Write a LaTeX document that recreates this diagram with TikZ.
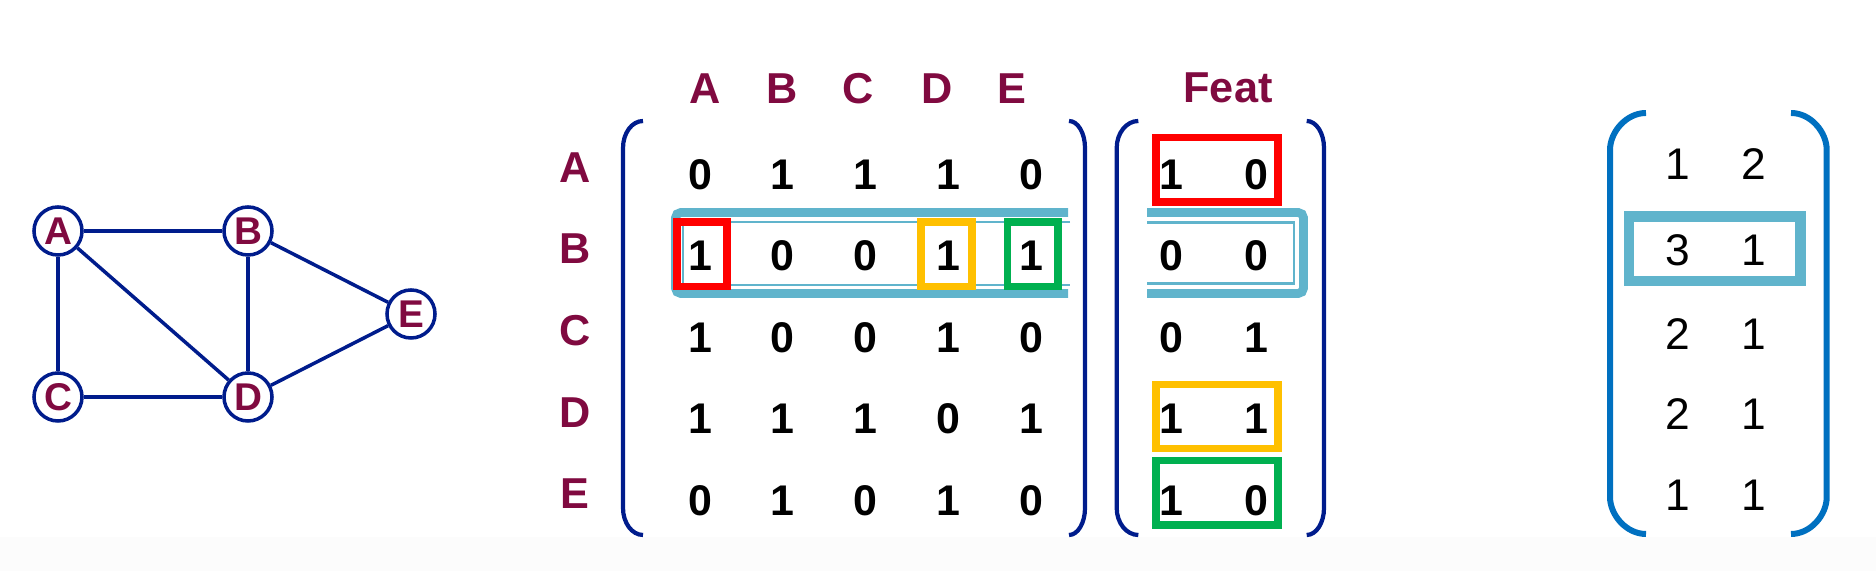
\documentclass[tikz,border=0pt]{standalone}
\usepackage{fontspec}
\setmainfont{Liberation Sans}
\usepackage{xcolor}
\usepackage{tikz}

\definecolor{maroon}{RGB}{128,10,64}
\definecolor{navy}{RGB}{0,28,140}
\definecolor{tealbox}{RGB}{96,180,204}
\definecolor{hlred}{RGB}{255,0,0}
\definecolor{hlorange}{RGB}{255,192,0}
\definecolor{hlgreen}{RGB}{0,176,80}
\definecolor{brkblue}{RGB}{0,112,192}

\begin{document}
\begin{tikzpicture}[
  x=0.01cm, y=-0.01cm,
  vertex/.style={circle,draw=navy,line width=1pt,fill=white,minimum size=0.48cm,inner sep=0pt,text=maroon,font=\bfseries\fontsize{11}{13}\selectfont},
  link/.style={draw=navy,line width=1pt},
  lbl/.style={text=maroon,inner sep=0pt,font=\bfseries\fontsize{12.3}{14}\selectfont},
  num/.style={inner sep=0pt,font=\bfseries\fontsize{12.2}{14}\selectfont},
  plainnum/.style={inner sep=0pt,font=\fontsize{12.6}{15}\selectfont},
  brk/.style={draw=navy,line width=1.2pt},
  hl/.style={draw=#1,line width=2.1pt,inner sep=0pt},
  rowband/.style={draw=tealbox,line width=2.5pt,rounded corners=1.5pt},
  rowline/.style={draw=tealbox,line width=0.6pt}
  ]

\useasboundingbox (0,0) rectangle (1876,571);
\fill[black!1] (0,537) rectangle (1876,571);

% Graph
\node[vertex] (vA) at (58,231) {A};
\node[vertex] (vB) at (248,231) {B};
\node[vertex] (vC) at (58,397) {C};
\node[vertex] (vD) at (248,397) {D};
\node[vertex] (vE) at (411,314) {E};
\foreach \u/\v in {vA/vB, vA/vC, vA/vD, vB/vD, vB/vE, vC/vD, vD/vE}
  \draw[link] (\u) -- (\v);

% Row B highlight
\draw[rowband] (1068,212.5) -- (675.5,212.5) -- (675.5,293.5) -- (1068,293.5);
\draw[rowline] (1070,222) -- (683,222) -- (683,285) -- (1070,285);
\draw[rowband] (1147,212.5) -- (1303.5,212.5) -- (1303.5,293.5) -- (1147,293.5);
\draw[rowline] (1147,222.5) -- (1294,222.5) -- (1294,283.5) -- (1147,283.5);

% Neighbour boxes
\node[hl=hlred, minimum width=0.5cm, minimum height=0.643cm] (selA) at (702,254.2) {};
\node[hl=hlorange, minimum width=0.51cm, minimum height=0.643cm] (selD) at (946.5,254.2) {};
\node[hl=hlgreen, minimum width=0.503cm, minimum height=0.643cm] (selE) at (1032.9,254.2) {};
\node[hl=hlred, minimum width=1.22cm, minimum height=0.643cm] (featA) at (1217,169.9) {};
\node[hl=hlorange, minimum width=1.22cm, minimum height=0.643cm] (featD) at (1217,416.4) {};
\node[hl=hlgreen, minimum width=1.22cm, minimum height=0.643cm] (featE) at (1217,492.9) {};

% Adjacency matrix
\foreach \c/\x in {A/705, B/781.7, C/858.3, D/937.3, E/1012}
  \node[lbl] (col\c) at (\x,88.3) {\c};
\foreach \c [count=\i] in {A,B,C,D,E}
  \node[lbl] (row\c) at (575,{167.5+81.6*(\i-1)}) {\c};
\foreach \vals [count=\i] in {{0,1,1,1,0},{1,0,0,1,1},{1,0,0,1,0},{1,1,1,0,1},{0,1,0,1,0}}
  \foreach \v [count=\j] in \vals
    \node[num] (adj-\i-\j) at ({700+82.8*(\j-1)},{174.7+81.4*(\i-1)}) {\v};

% Features
\node[lbl] (feat) at (1228,88.3) {Feat};
\foreach \a/\b [count=\i] in {1/0,0/0,0/1,1/1,1/0} {
  \node[num] (f-\i-1) at (1171.7,{174.7+81.4*(\i-1)}) {\a};
  \node[num] (f-\i-2) at (1256.5,{174.7+81.4*(\i-1)}) {\b};
}

% Brackets
\foreach \xv/\xe in {623/643, 1085/1069, 1116.7/1138.3, 1324/1306.7}
  \draw[brk] (\xe,121) .. controls ({\xe+0.55*(\xv-\xe)},121) and (\xv,133) .. (\xv,148)
    -- (\xv,508) .. controls (\xv,523) and ({\xe+0.55*(\xv-\xe)},535) .. (\xe,535);
\foreach \xv/\xe in {1610/1646, 1826.7/1791}
  \draw[brk, draw=brkblue, line width=1.7pt] (\xe,113) .. controls ({\xe+0.55*(\xv-\xe)},113) and (\xv,132) .. (\xv,150)
    -- (\xv,497) .. controls (\xv,515) and ({\xe+0.55*(\xv-\xe)},534) .. (\xe,534);

% Aggregated result
\node[draw=tealbox, line width=3.1pt, minimum width=1.71cm, minimum height=0.645cm] (hrow) at (1714.5,248.7) {};
\foreach \a/\b/\y [count=\i] in {1/2/164,3/1/250,2/1/334,2/1/414,1/1/495} {
  \node[plainnum] (h-\i-1) at (1677.7,\y) {\a};
  \node[plainnum] (h-\i-2) at (1753.3,\y) {\b};
}

\end{tikzpicture}
\end{document}
